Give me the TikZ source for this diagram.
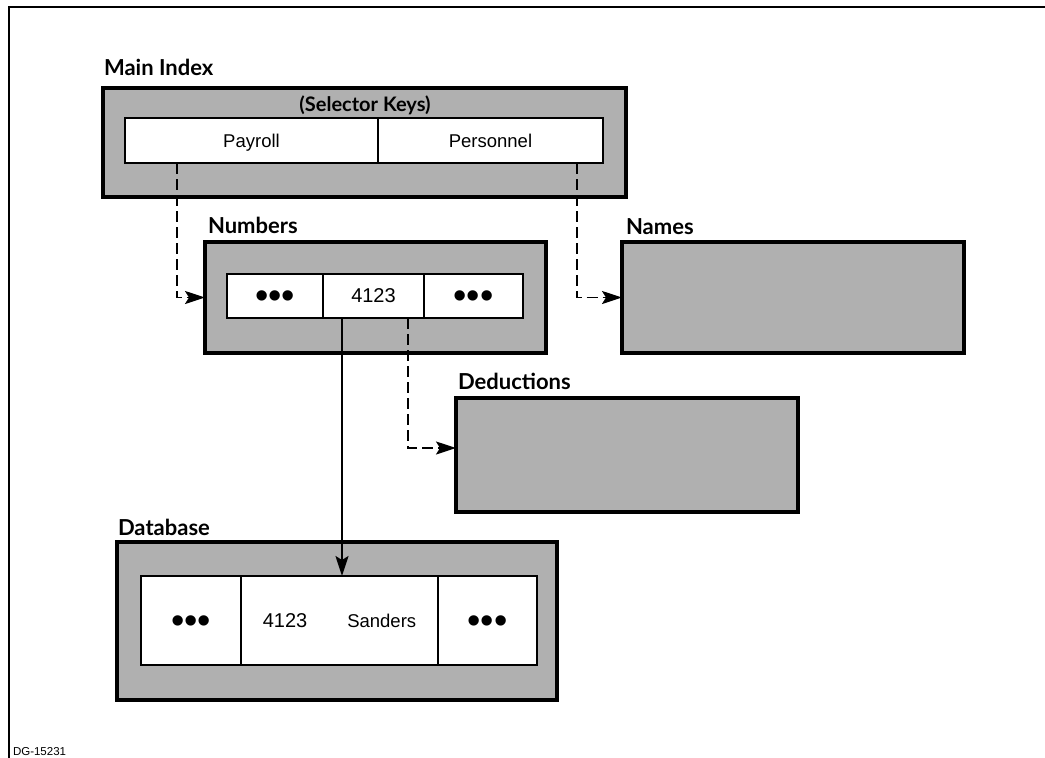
\documentclass[tikz,border=0pt]{standalone}
\usepackage{fontspec}
\setmainfont{Liberation Sans}
\newfontfamily\headfont{Lato}
\usetikzlibrary{arrows.meta}

\tikzset{
  every node/.style={inner sep=0pt, outer sep=0pt},
  panel/.style={draw=black, line width=3.2pt, fill=black!31, anchor=north west},
  cell/.style={draw=black, line width=2.2pt, fill=white, anchor=north west,
               font=\fontsize{18.5}{20}\selectfont, text depth=0pt},
  title/.style={anchor=base west, font=\headfont\bfseries\fontsize{22}{24}\selectfont},
  link/.style={line width=1.9pt, -{Stealth[length=20pt,width=13pt,inset=4pt]}},
  dashlink/.style={link, dash pattern=on 11pt off 5pt},
  dots/.style={font=\fontsize{38}{38}\selectfont, yshift=-4pt},
  num/.style={font=\fontsize{20}{22}\selectfont}
}

\begin{document}
\begin{tikzpicture}[x=1pt,y=-1pt]
\useasboundingbox (0,0) rectangle (1045,758);

% page frame (top and left rules)
\draw[line width=1.4pt] (9,758) -- (9,7) -- (1045,7);

% Main Index
\node[title] (tmain) at (104,75) {Main Index};
\node[panel, minimum width=523pt, minimum height=109pt] (main) at (103,88) {};
\node[anchor=base, font=\headfont\bfseries\fontsize{20}{22}\selectfont] (keys) at (365,111) {(Selector Keys)};
\node[cell, minimum width=253pt, minimum height=45pt] (payroll) at (125,118) {Payroll};
\node[cell, minimum width=225pt, minimum height=45pt] (personnel) at (378,118) {Personnel};

% Numbers
\node[title] (tnum) at (208,233) {Numbers};
\node[panel, minimum width=341pt, minimum height=111pt] (numbers) at (205,242) {};
\node[cell, minimum width=96pt, minimum height=44pt] (nleft) at (227,274) {};
\node[cell, minimum width=101pt, minimum height=44pt, num] (nmid) at (323,274) {4123};
\node[cell, minimum width=99pt, minimum height=44pt] (nright) at (424,274) {};
\node[dots] (dl) at (nleft.center) {•••};
\node[dots] (dr) at (nright.center) {•••};

% Names
\node[title] (tnames) at (626,234) {Names};
\node[panel, minimum width=342pt, minimum height=111pt] (names) at (622,242) {};

% Deductions
\node[title] (tded) at (458,389) {Deductions};
\node[panel, minimum width=342pt, minimum height=114pt] (deductions) at (456,398) {};

% Database
\node[title] (tdb) at (118,535) {Database};
\node[panel, minimum width=440pt, minimum height=158pt] (database) at (117,542) {};
\node[cell, minimum width=100pt, minimum height=89pt] (dleft) at (141,576) {};
\node[cell, minimum width=197pt, minimum height=89pt] (dmid) at (241,576) {{\fontsize{20}{22}\selectfont 4123}\hspace{40pt}Sanders};
\node[cell, minimum width=99pt, minimum height=89pt] (dright) at (438,576) {};
\node[dots] (ddl) at (dleft.center) {•••};
\node[dots] (ddr) at (dright.center) {•••};

% connectors
\draw[dashlink] ([xshift=52pt]payroll.south west) |- (numbers.west);
\draw[dashlink] ([xshift=199pt]personnel.south west) |- (names.west);
\draw[dashlink] ([xshift=85pt]nmid.south west) |- ([yshift=7pt]deductions.west);
\draw[link] ([xshift=19pt]nmid.south west) coordinate (s) -- (s |- dmid.north);

% drawing number
\node[anchor=base west, font=\fontsize{11.5}{12}\selectfont] (dg) at (13,755) {DG-15231};
\end{tikzpicture}
\end{document}
